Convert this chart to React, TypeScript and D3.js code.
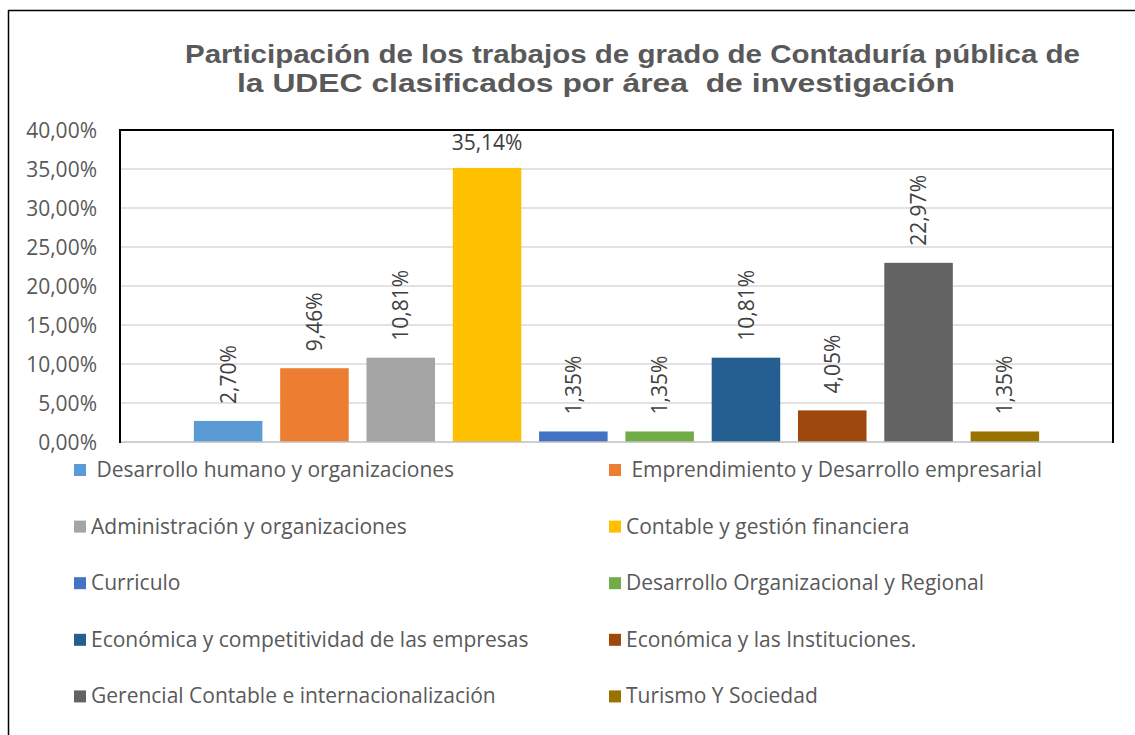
import React from "react";
import * as d3 from "d3";

const titleLines = [
  "Participación de los trabajos de grado de Contaduría pública de",
  "la UDEC clasificados por área  de investigación",
];

const categories = [
  " Desarrollo humano y organizaciones",
  " Emprendimiento y Desarrollo empresarial",
  "Administración y organizaciones",
  "Contable y gestión financiera",
  "Curriculo",
  "Desarrollo Organizacional y Regional",
  "Económica y competitividad de las empresas",
  "Económica y las Instituciones.",
  "Gerencial Contable e internacionalización",
  "Turismo Y Sociedad",
];

const values = [2.7, 9.46, 10.81, 35.14, 1.35, 1.35, 10.81, 4.05, 22.97, 1.35];

const colors = [
  "#5B9BD5",
  "#ED7D31",
  "#A5A5A5",
  "#FFC000",
  "#4472C4",
  "#70AD47",
  "#255E91",
  "#9E480E",
  "#636363",
  "#997300",
];

const yTicks = [0, 5, 10, 15, 20, 25, 30, 35, 40];

const W = 1135;
const H = 735;
const plot = { left: 120, right: 1113, top: 130, bottom: 442 };
const FONT = "'Open Sans', sans-serif";

const fmt = (v: number) => v.toFixed(2).replace(".", ",") + "%";

export default function App() {
  const y = d3.scaleLinear().domain([0, 40]).range([plot.bottom, plot.top]);
  const x = d3
    .scaleBand<number>()
    .domain(d3.range(categories.length))
    .range([plot.left, plot.right])
    .paddingInner(0.206)
    .paddingOuter(0.856);

  const labelGap = 17;
  const rotLabelLen = 70;

  const legendRow0 = 477;
  const legendStep = 56.6;
  const legendCols = [74, 609];

  const titleLayout = [
    { x: 185, y: 63, len: 895 },
    { x: 237, y: 92, len: 718 },
  ];

  return (
    <svg
      width={W}
      height={H}
      style={{ position: "absolute", left: 0, top: 0, background: "#fff" }}
    >
      <rect x={0} y={0} width={W} height={H} fill="#fff" />
      {/* outer chart border */}
      <line x1={8.5} y1={10} x2={8.5} y2={H} stroke="#000" strokeWidth={1.5} />
      <line x1={8} y1={10.5} x2={W} y2={10.5} stroke="#000" strokeWidth={1.5} />

      {/* title */}
      {titleLines.map((t, i) => (
        <text
          key={"title" + i}
          x={titleLayout[i].x}
          y={titleLayout[i].y}
          textLength={titleLayout[i].len}
          lengthAdjust="spacingAndGlyphs"
          fontFamily="'Liberation Sans', Arial, sans-serif"
          fontWeight="bold"
          fontSize={26}
          fill="#595959"
          style={{ whiteSpace: "pre" }}
        >
          {t}
        </text>
      ))}

      {/* gridlines */}
      {yTicks.map((t) =>
        t === 0 || t === 40 ? null : (
          <line
            key={"g" + t}
            x1={plot.left}
            x2={plot.right}
            y1={y(t)}
            y2={y(t)}
            stroke="#D9D9D9"
            strokeWidth={1.5}
          />
        )
      )}

      {/* y tick labels */}
      {yTicks.map((t) => (
        <text
          key={"t" + t}
          x={97}
          y={y(t)}
          dy="0.36em"
          textAnchor="end"
          fontFamily={FONT}
          fontSize={21}
          fill="#595959"
        >
          {fmt(t)}
        </text>
      ))}

      {/* bars */}
      {values.map((v, i) => (
        <rect
          key={"b" + i}
          x={x(i)}
          y={y(v)}
          width={x.bandwidth()}
          height={plot.bottom - y(v)}
          fill={colors[i]}
        />
      ))}

      {/* data labels */}
      {values.map((v, i) => {
        const cx = (x(i) as number) + x.bandwidth() / 2;
        const top = y(v) - labelGap;
        if (top - rotLabelLen < plot.top) {
          return (
            <text
              key={"l" + i}
              x={cx}
              y={y(v) - 18}
              textAnchor="middle"
              fontFamily={FONT}
              fontSize={21}
              fill="#404040"
            >
              {fmt(v)}
            </text>
          );
        }
        return (
          <text
            key={"l" + i}
            transform={`translate(${cx},${top}) rotate(-90)`}
            dy="0.36em"
            textAnchor="start"
            fontFamily={FONT}
            fontSize={21}
            fill="#404040"
          >
            {fmt(v)}
          </text>
        );
      })}

      {/* plot frame */}
      <line x1={plot.left} x2={plot.right} y1={plot.bottom} y2={plot.bottom} stroke="#BFBFBF" strokeWidth={1.5} />
      <line x1={plot.left} x2={plot.right} y1={plot.top} y2={plot.top} stroke="#000" strokeWidth={2} />
      <line x1={plot.left} x2={plot.left} y1={plot.top - 1} y2={plot.bottom + 1} stroke="#000" strokeWidth={2} />
      <line x1={plot.right} x2={plot.right} y1={plot.top - 1} y2={plot.bottom + 1} stroke="#000" strokeWidth={2} />

      {/* legend */}
      {categories.map((c, i) => {
        const col = i % 2;
        const row = Math.floor(i / 2);
        const lx = legendCols[col];
        const by = legendRow0 + row * legendStep;
        return (
          <g key={"lg" + i}>
            <rect x={lx} y={by - 13} width={12} height={12} fill={colors[i]} />
            <text
              x={lx + 17}
              y={by}
              fontFamily={FONT}
              fontSize={21}
              fill="#595959"
              style={{ whiteSpace: "pre" }}
            >
              {c}
            </text>
          </g>
        );
      })}
    </svg>
  );
}
